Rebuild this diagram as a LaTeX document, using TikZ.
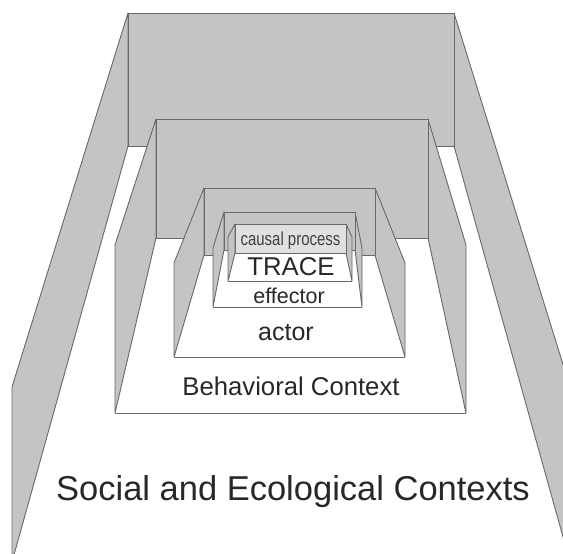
\documentclass[tikz,border=0pt]{standalone}
\usepackage{fontspec}
\setmainfont{Liberation Sans}
\definecolor{wallgray}{RGB}{196,196,196}
\definecolor{panelgray}{RGB}{224,224,224}
\definecolor{edgegray}{RGB}{105,105,105}
\definecolor{txt}{RGB}{40,40,40}
\newcommand\drawlevel[9]{%
  \fill[white] (#1,#4) -- (#2,#4) -- (#6,#8) -- (#5,#8) -- cycle;
  \draw[edge] (#5,#8) -- (#6,#8);
  \filldraw[wall] (#1,#3) -- (#5,#7) -- (#5,#8) -- (#1,#4) -- cycle;
  \filldraw[wall] (#2,#3) -- (#6,#7) -- (#6,#8) -- (#2,#4) -- cycle;
  \filldraw[wall,fill=#9] (#1,#3) rectangle (#2,#4);
}
\begin{document}
\begin{tikzpicture}[x=1pt,y=-1pt,
  edge/.style={draw=edgegray,line width=0.9pt,line join=round},
  wall/.style={edge,fill=wallgray},
  lbl/.style={text=txt,inner sep=0pt,anchor=base}]
\useasboundingbox (0,0) rectangle (563,554);
\fill[white] (0,0) rectangle (563,554);
\begin{scope}
\clip (0,0) rectangle (563,554);
% level 1
\drawlevel{128}{454}{13}{146}{12}{570}{387}{562}{wallgray}
% level 2
\drawlevel{156}{428}{119}{238}{115}{466}{245}{413}{wallgray}
% level 3
\drawlevel{204}{375}{188}{255}{174}{405}{263}{357}{wallgray}
% level 4
\drawlevel{224}{355}{212}{250}{213}{362}{248}{307}{wallgray}
% level 5
\drawlevel{235}{346}{224}{253}{228}{352}{237}{281}{panelgray}
\end{scope}
\node[lbl,text=black!75] (causal) at (290.5,245) {\fontsize{17}{18}\selectfont\scalebox{0.88}[1.1]{causal process}};
\node[lbl] (trace) at (291,275) {\fontsize{25.7}{28}\selectfont TRACE};
\node[lbl] (effector) at (289,303) {\fontsize{21.5}{24}\selectfont effector};
\node[lbl] (actor) at (286,340) {\fontsize{25}{28}\selectfont actor};
\node[lbl] (behav) at (291,395) {\fontsize{25.7}{28}\selectfont Behavioral Context};
\node[lbl] (social) at (293,500) {\fontsize{34.5}{38}\selectfont Social and Ecological Contexts};
\end{tikzpicture}
\end{document}
